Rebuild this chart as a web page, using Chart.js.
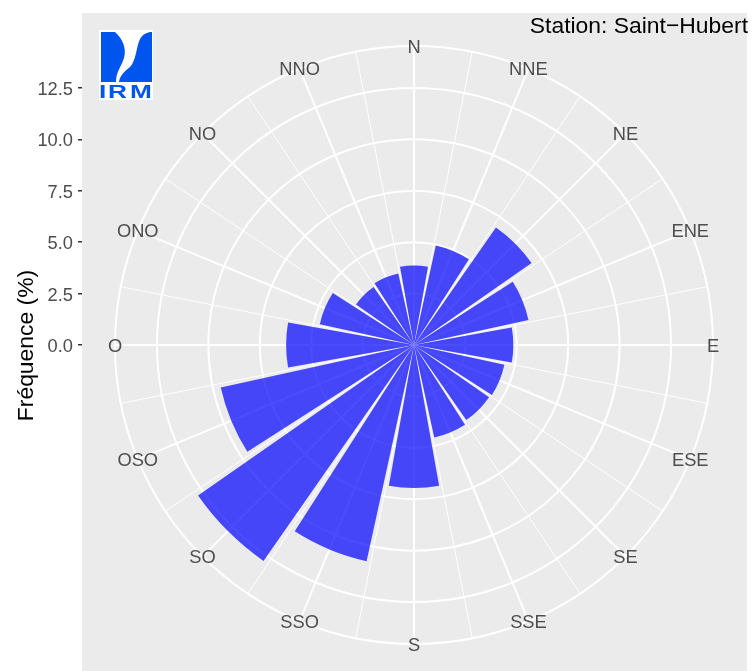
<!DOCTYPE html>
<html>
<head>
<meta charset="utf-8">
<script src="https://cdn.jsdelivr.net/npm/chart.js@4.4.1/dist/chart.umd.min.js"></script>
<style>
  html, body { margin: 0; padding: 0; background: #ffffff; overflow: hidden; }
  #wrap { width: 753px; height: 671px; overflow: hidden; }
  canvas { display: block; }
</style>
</head>
<body>
<div id="wrap"><canvas id="c" width="753" height="678"></canvas></div>
<script>
// ---------------- data ----------------
const DIRECTIONS = ['N','NNE','NE','ENE','E','ESE','SE','SSE','S','SSO','SO','OSO','O','ONO','NO','NNO'];
const FREQUENCY  = [3.87, 4.95, 6.97, 5.70, 4.83, 4.50, 4.45, 4.60, 6.95, 10.76, 12.80, 9.62, 6.22, 4.69, 3.44, 3.56];
const Y_TICKS    = [0, 2.5, 5, 7.5, 10, 12.5];
const RING_BREAKS = [2.5, 5, 7.5, 10, 12.5];
const R_OUTER    = 14.54;           // value of the outer circle (ggplot 0.45 radius)
const Y_AXIS_TITLE = 'Fréquence (%)';
const STATION_TEXT = 'Station: Saint\u2212Hubert';

// ---------------- style ----------------
const FONT = '"Liberation Sans", Arial, Helvetica, sans-serif';
const BAR_WIDTH = 0.9;              // fraction of a sector
const SECTOR = 360 / DIRECTIONS.length;
const BAR_ANGLE = SECTOR * BAR_WIDTH;
const GAP_ANGLE = SECTOR - BAR_ANGLE;
const DRAW_RADIUS = 299, HALF_TOP = 332, HALF_BOTTOM = 333;
const Y_MAX = R_OUTER * HALF_TOP / DRAW_RADIUS;
const Y_MIN = -R_OUTER * HALF_BOTTOM / DRAW_RADIUS;

// table for polarArea: bars alternate with empty gaps, N split around the top
const values = [], angles = [];
values.push(FREQUENCY[0]); angles.push(BAR_ANGLE / 2);
values.push(0); angles.push(GAP_ANGLE);
for (let k = 1; k < DIRECTIONS.length; k++) {
  values.push(FREQUENCY[k]); angles.push(BAR_ANGLE);
  values.push(0); angles.push(GAP_ANGLE);
}
values.push(FREQUENCY[0]); angles.push(BAR_ANGLE / 2);

// 32 angular positions: directions (major) and in-between (minor)
const thetaLabels = [];
DIRECTIONS.forEach(d => { thetaLabels.push(d); thetaLabels.push(''); });

Chart.defaults.font.family = FONT;

const panelPlugin = {
  id: 'panel',
  beforeDraw(chart) {
    const {ctx, chartArea: a} = chart;
    ctx.save();
    ctx.fillStyle = '#FFFFFF';
    ctx.fillRect(0, 0, chart.width, chart.height);
    ctx.fillStyle = '#EBEBEB';
    ctx.fillRect(a.left, a.top, a.right - a.left, a.bottom - a.top);
    ctx.restore();
  }
};

function drawLogo(ctx, x0, y0) {
  ctx.save();
  ctx.fillStyle = '#FFFFFF';
  ctx.fillRect(x0, y0, 54, 70);
  ctx.fillStyle = '#0055EE';
  ctx.beginPath();
  ctx.moveTo(x0 + 2, y0 + 2);
  ctx.lineTo(x0 + 16, y0 + 2);
  ctx.bezierCurveTo(x0 + 23, y0 + 8, x0 + 28, y0 + 18, x0 + 25, y0 + 28);
  ctx.bezierCurveTo(x0 + 22, y0 + 37, x0 + 17, y0 + 42, x0 + 17, y0 + 52);
  ctx.lineTo(x0 + 2, y0 + 52);
  ctx.closePath();
  ctx.fill();
  ctx.beginPath();
  ctx.moveTo(x0 + 53, y0 + 2);
  ctx.lineTo(x0 + 53, y0 + 52);
  ctx.lineTo(x0 + 20, y0 + 52);
  ctx.bezierCurveTo(x0 + 21, y0 + 45, x0 + 26, y0 + 41, x0 + 31, y0 + 37);
  ctx.bezierCurveTo(x0 + 37, y0 + 31, x0 + 37, y0 + 18, x0 + 41, y0 + 9);
  ctx.bezierCurveTo(x0 + 44, y0 + 4, x0 + 48, y0 + 2, x0 + 53, y0 + 2);
  ctx.closePath();
  ctx.fill();
  ctx.font = 'bold 17.5px ' + FONT;
  ctx.textBaseline = 'alphabetic';
  ctx.textAlign = 'left';
  [['I', 0], ['R', 9], ['M', 31]].forEach(([ch, dx]) => {
    ctx.save();
    ctx.translate(x0 + dx, y0 + 68);
    ctx.scale(1.5, 1);
    ctx.fillText(ch, 0, 0);
    ctx.restore();
  });
  ctx.restore();
}

const overlayPlugin = {
  id: 'overlay',
  afterDraw(chart) {
    const {ctx, chartArea: a} = chart;
    const r = chart.scales.r;
    // direction labels centred on the outer circle
    ctx.save();
    const fs = 18.3;
    ctx.font = fs + 'px ' + FONT;
    ctx.fillStyle = '#4D4D4D';
    ctx.textAlign = 'center';
    ctx.textBaseline = 'alphabetic';
    thetaLabels.forEach((lab, i) => {
      if (!lab) return;
      const p = r.getPointPositionForValue(i, r.max);
      ctx.fillText(lab, p.x, p.y + fs * 0.716 / 2);
    });
    // station text
    ctx.font = '22.9px ' + FONT;
    ctx.fillStyle = '#000000';
    ctx.textAlign = 'right';
    ctx.fillText(STATION_TEXT, chart.width - 5, 33);
    ctx.restore();
    drawLogo(ctx, a.left + 17, a.top + 17);
  }
};

new Chart(document.getElementById('c'), {
  type: 'polarArea',
  data: {
    labels: thetaLabels,
    datasets: [{
      data: values,
      angle: c => angles[c.dataIndex],
      backgroundColor: 'rgba(0,0,255,0.7)',
      borderWidth: 0
    }]
  },
  options: {
    responsive: false,
    animation: false,
    devicePixelRatio: 1,
    layout: { padding: { top: 13, right: 6, bottom: 0, left: 0 } },
    plugins: {
      legend: { display: false },
      tooltip: { enabled: false },
      title: { display: false }
    },
    scales: {
      r: {
        type: 'radialLinear',
        min: 0,
        max: R_OUTER,
        startAngle: 0,
        afterBuildTicks: s => {
          s.ticks = [0].concat(RING_BREAKS, [R_OUTER]).map(v => ({ value: v }));
        },
        ticks: {
          display: true,
          callback: () => '',
          font: { size: 10 },
          backdropPadding: 28,
          showLabelBackdrop: false,
          color: 'rgba(0,0,0,0)'
        },
        grid: { display: true, circular: true, color: '#FFFFFF', lineWidth: 2 },
        angleLines: {
          display: true,
          color: '#FFFFFF',
          lineWidth: c => (c.index % 2 === 0 ? 2 : 1)
        },
        pointLabels: { display: false }
      },
      y: {
        type: 'linear',
        position: 'left',
        min: Y_MIN,
        max: Y_MAX,
        afterBuildTicks: s => { s.ticks = Y_TICKS.map(v => ({ value: v })); },
        afterFit: s => { s.width = 82; s.paddingTop = 0; s.paddingBottom = 0; },
        ticks: {
          callback: v => Number(v).toFixed(1),
          color: '#4D4D4D',
          font: { size: 18.3 },
          padding: 5,
          labelOffset: 2,
          autoSkip: false
        },
        grid: {
          drawOnChartArea: false,
          drawTicks: true,
          tickLength: 4,
          color: '#333333',
          lineWidth: 1.5
        },
        border: { display: false },
        title: {
          display: true,
          text: Y_AXIS_TITLE,
          color: '#000000',
          font: { size: 22.9 },
          padding: { top: 12.5, bottom: 0 }
        }
      }
    }
  },
  plugins: [panelPlugin, overlayPlugin]
});
</script>
</body>
</html>
